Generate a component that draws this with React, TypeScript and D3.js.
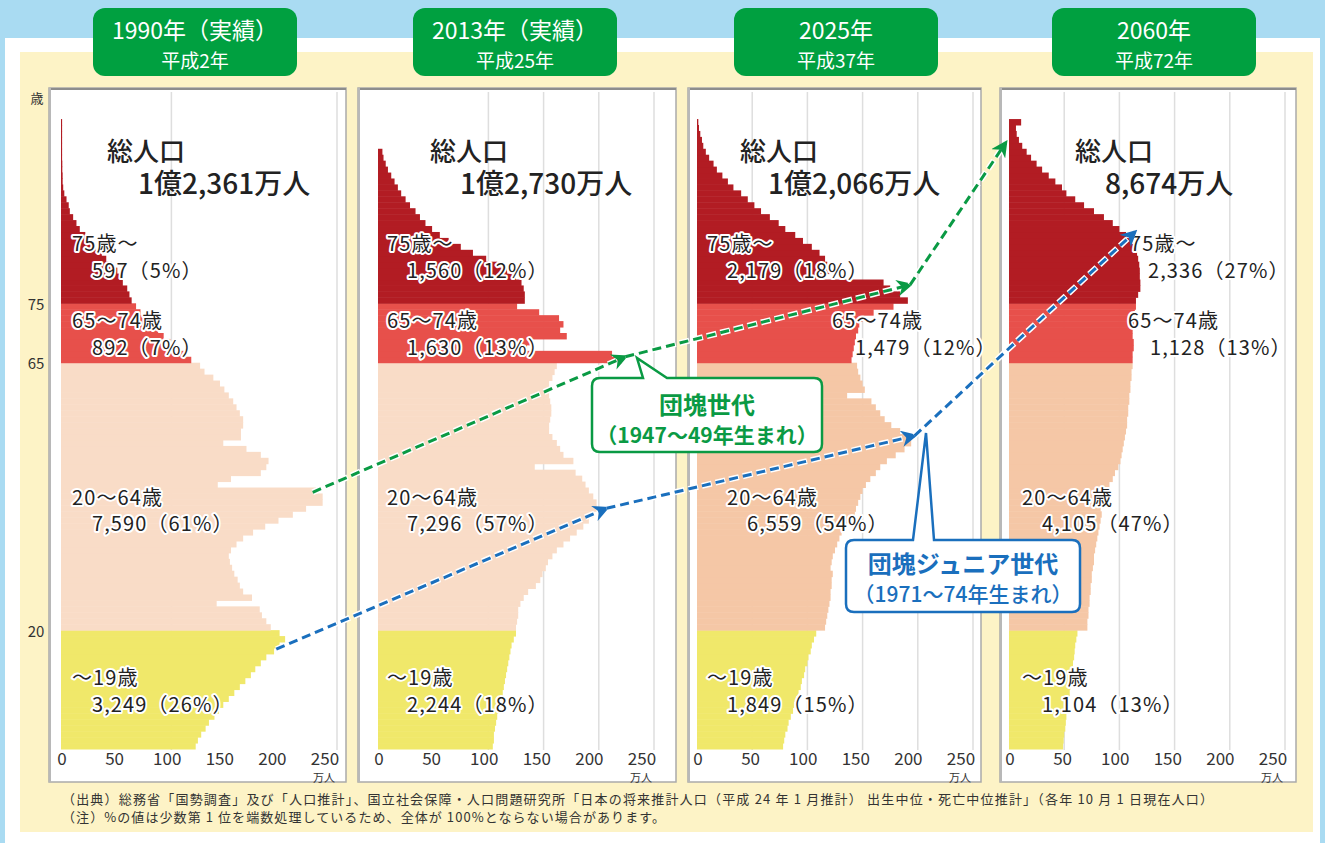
import React from 'react';
import * as d3 from 'd3';

// population by single year of age (万人), index = age
const pop1990 = [
  122, 124, 127, 131, 134, 139, 143, 147, 152, 157,
  162, 167, 172, 176, 181, 186, 193, 198, 203, 198,
  190, 186, 182, 180, 141, 173, 165, 162, 160, 157,
  155, 153, 152, 154, 159, 165, 174, 185, 197, 210,
  222, 237, 237, 231, 142, 154, 181, 186, 188, 181,
  168, 147, 163, 163, 165, 165, 162, 159, 156, 152,
  148, 144, 138, 130, 126,
  118, 112, 105, 99, 93, 88, 82, 77, 72, 68,
  64, 62, 60, 56, 53, 51, 46, 41, 37, 31,
  26, 22, 17, 14, 11, 8, 7, 5, 3, 2,
  1.5, 1.5, 1.2, 1.2, 1, 1, 1, 1, 1, 1, 1,
];
const pop2013 = [
  104, 105, 105, 106, 107, 108, 109, 110, 112, 113,
  114, 115, 116, 117, 118, 119, 120, 121, 123, 125,
  125, 126, 127, 127, 129, 132, 136, 143, 147, 149,
  152, 154, 158, 162, 168, 174, 180, 186, 191, 195,
  198, 198, 195, 191, 188, 185, 179, 142, 177, 168,
  165, 162, 158, 155, 155, 156, 157, 157, 156, 155,
  154, 155, 158, 160, 162,
  221, 212, 135, 138, 171, 165, 168, 164, 146, 126,
  133, 133, 132, 130, 125, 117, 108, 98, 86, 75,
  64, 56, 49, 43, 38, 34, 29, 25, 21, 18,
  15, 12, 9, 7, 5, 4,
];
const pop2025 = [
  78, 79, 80, 82, 83, 85, 87, 88, 90, 92,
  94, 95, 97, 98, 100, 101, 103, 104, 106, 108,
  116, 117, 118, 119, 120, 121, 121, 122, 122, 123,
  121, 122, 123, 125, 127, 129, 131, 135, 139, 143,
  144, 146, 148, 150, 153, 157, 162, 166, 172, 180,
  188, 194, 192, 184, 176, 170, 166, 162, 158, 136,
  152, 150, 148, 146, 145,
  140, 141, 142, 143, 144, 146, 147, 150, 160, 178,
  191, 184, 175, 169, 108, 120, 118, 116, 111, 104,
  96, 89, 80, 74, 66, 58, 52, 46, 40, 33,
  28, 23, 18, 15, 11, 8, 5.7, 4.5, 3, 1.8, 1.2,
];
const pop2060 = [
  49, 49.5, 50, 51, 51.5, 52, 53, 53.5, 54, 55,
  55.5, 56, 57, 57.5, 58, 59, 59.5, 60, 61, 62,
  71, 71, 72, 72, 73, 73, 74, 74, 75, 75,
  76, 77, 77, 78, 79, 80, 81, 82, 83, 84,
  83, 85, 87, 89, 91, 94, 96, 99, 101, 102,
  103, 104, 105, 106, 107, 107, 108, 108, 109, 109,
  110, 110, 111, 111, 112,
  112, 112, 113, 113, 112, 112, 113, 113, 114, 115,
  115, 117, 119, 119, 118.5, 118.5, 118, 117, 116, 113,
  110, 106, 100, 94, 86, 77, 68, 60, 52, 48,
  42, 36, 30, 25, 20, 16, 12, 9, 7, 6.3, 11,
];

const years = ['1990', '2013', '2025', '2060'];
const titles = ['1990年（実績）', '2013年（実績）', '2025年', '2060年'];
const subtitles = ['平成2年', '平成25年', '平成37年', '平成72年'];
const totals = ['1億2,361万人', '1億2,730万人', '1億2,066万人', '8,674万人'];
const groupNames = ['75歳～', '65～74歳', '20～64歳', '～19歳'];
const groupValues1990 = ['597（5%）', '892（7%）', '7,590（61%）', '3,249（26%）'];
const groupValues2013 = ['1,560（12%）', '1,630（13%）', '7,296（57%）', '2,244（18%）'];
const groupValues2025 = ['2,179（18%）', '1,479（12%）', '6,559（54%）', '1,849（15%）'];
const groupValues2060 = ['2,336（27%）', '1,128（13%）', '4,105（47%）', '1,104（13%）'];
const xTicks = [0, 50, 100, 150, 200, 250];
const ageTicks = [20, 65, 75];

// cohort arrows: [panel, population, age]
const dankai = [[0, 228, 43.2], [1, 224, 66], [2, 193, 78.1], [3, -3, 102]];
const dankaiJr = [[0, 195, 16.8], [1, 207, 40.5], [2, 197, 52.7], [3, 114, 87]];

const allPops = [pop1990, pop2013, pop2025, pop2060];
const allGroupValues = [groupValues1990, groupValues2013, groupValues2025, groupValues2060];

// layout
const panelX0 = [61, 378, 697, 1009];
const frames = [[49, 346], [358, 676], [688, 981], [1000, 1296]];
const titleCx = [195, 515, 836, 1154];
const gridVals = [[100, 250], [100, 150, 200, 250], [50, 100, 150, 200, 250], [50, 100, 150, 200, 250]];
const totalOffsets = [[46, 77], [52, 82], [43, 71], [66, 96]];
// label [nameDx, valueDx] per group per panel
const labelDx = [
  [[11, 31], [11, 31], [11, 31], [11, 31]],
  [[9, 29], [9, 29], [9, 29], [9, 29]],
  [[10, 30], [135, 158], [30, 50], [10, 30]],
  [[121, 139], [119, 141], [13, 33], [13, 33]],
];
const labelY = [[242, 269], [319, 346], [496, 522], [676, 703]];

const FONT = "'Noto Sans CJK JP', 'Noto Sans', sans-serif";
const GREEN = '#0a9a44';
const BLUE = '#1a6fbd';

const yAge = d3.scaleLinear().domain([0, 105]).range([749, 125]);
const xScales = panelX0.map((x0) => d3.scaleLinear().domain([0, 250]).range([x0, x0 + 276]));
const tickScales = panelX0.map((x0) => d3.scaleLinear().domain([0, 250]).range([x0 + 1, x0 + 264]));

const fillFor = (age: number, p: number) => {
  if (age >= 75) return '#b21c23';
  if (age >= 65) return '#e7504b';
  if (age >= 20) return p < 2 ? '#f9dcc7' : '#f5c7a6';
  return '#f0e86a';
};

const halo = {
  paintOrder: 'stroke',
  stroke: '#fff',
  strokeWidth: 4,
  strokeLinejoin: 'round',
  letterSpacing: 1.1,
} as React.CSSProperties;

const cohortPath = (pts: number[][], i: number) => {
  const a = pts[i];
  const b = pts[i + 1];
  return [
    [xScales[a[0]](a[1]), yAge(a[2])],
    [xScales[b[0]](b[1]), yAge(b[2])],
  ];
};

const Arrow = ({ pts, color, id }: { pts: number[][]; color: string; id: string }) => (
  <g>
    {pts.slice(0, -1).map((_, i) => {
      const [[x1, y1], [x2, y2]] = cohortPath(pts, i);
      const d = `M${x1},${y1}L${x2},${y2}`;
      return (
        <g key={i}>
          <path d={d} stroke="#fff" strokeWidth={6} fill="none" strokeDasharray="10 4" />
          <path d={d} stroke={color} strokeWidth={3} fill="none" strokeDasharray="9 5" markerEnd={`url(#${id})`} />
        </g>
      );
    })}
  </g>
);

export default function App() {
  return (
    <svg width={1325} height={843} style={{ position: 'absolute', left: 0, top: 0 }} fontFamily={FONT}>
      <defs>
        <marker id="arrG" viewBox="0 0 10 10" refX="8" refY="5" markerWidth="5.5" markerHeight="5.5" orient="auto">
          <path d="M0,0 L10,5 L0,10 L3,5 z" fill={GREEN} />
        </marker>
        <marker id="arrB" viewBox="0 0 10 10" refX="8" refY="5" markerWidth="5.5" markerHeight="5.5" orient="auto">
          <path d="M0,0 L10,5 L0,10 L3,5 z" fill={BLUE} />
        </marker>
      </defs>

      {/* background */}
      <rect x={0} y={0} width={1325} height={843} fill="#a9dbf2" />
      <rect x={5} y={38} width={1315} height={820} fill="#fff" />
      <rect x={20} y={52} width={1293} height={780} fill="#fdf3c6" />

      {/* age axis labels */}
      <text x={37} y={97} fontSize={13} fill="#333" textAnchor="middle" dominantBaseline="central">歳</text>
      {ageTicks.map((a) => (
        <text key={a} x={36} y={yAge(a)} fontSize={15} fill="#333" textAnchor="middle" dominantBaseline="central">
          {a}
        </text>
      ))}

      {allPops.map((pop, p) => {
        const xs = xScales[p];
        const ts = tickScales[p];
        const [fl, fr] = frames[p];
        return (
          <g key={years[p]}>
            <rect x={fl} y={88} width={fr - fl} height={694} fill="#fff" stroke="#aaa" strokeWidth={1.5} />
            <line x1={fl} x2={fr} y1={89} y2={89} stroke="#8d8d8d" strokeWidth={2} />
            <line x1={fl + 1} x2={fl + 1} y1={88} y2={782} stroke="#b8b8b8" strokeWidth={2} />
            {gridVals[p].map((g) => (
              <line key={g} x1={xs(g)} x2={xs(g)} y1={92} y2={750} stroke="#dedede" strokeWidth={1.5} />
            ))}
            {pop.map((v, age) => (
              <rect
                key={age}
                x={xs(0)}
                y={yAge(age + 1)}
                width={xs(v) - xs(0)}
                height={yAge(age) - yAge(age + 1) + 0.5}
                fill={fillFor(age, p)}
              />
            ))}
            {xTicks.map((t) => (
              <text key={t} x={ts(t)} y={757} fontSize={17} fill="#333" textAnchor="middle" dominantBaseline="central">
                {t}
              </text>
            ))}
            <text x={ts(250) + 10} y={777} fontSize={11} fill="#333" textAnchor="end" dominantBaseline="central">
              万人
            </text>
          </g>
        );
      })}

      {/* text labels */}
      {allPops.map((_, p) => {
        const x0 = panelX0[p];
        return (
          <g key={'lab' + p} fill="#222">
            <text x={x0 + totalOffsets[p][0]} y={149} fontSize={26} fontWeight={500} dominantBaseline="central">
              総人口
            </text>
            <text x={x0 + totalOffsets[p][1]} y={182} fontSize={28} fontWeight={500} dominantBaseline="central">
              {totals[p]}
            </text>
            {groupNames.map((n, g) => (
              <g key={g}>
                <text x={x0 + labelDx[p][g][0]} y={labelY[g][0]} fontSize={20} style={halo} dominantBaseline="central">
                  {n}
                </text>
                <text x={x0 + labelDx[p][g][1]} y={labelY[g][1]} fontSize={20} style={halo} dominantBaseline="central">
                  {allGroupValues[p][g]}
                </text>
              </g>
            ))}
          </g>
        );
      })}

      {/* cohort arrows */}
      <Arrow pts={dankai} color={GREEN} id="arrG" />
      <Arrow pts={dankaiJr} color={BLUE} id="arrB" />

      {/* callouts */}
      <g>
        <path
          d="M600,378 H643 L637,358 L667,378 H814 Q822,378 822,386 V444 Q822,452 814,452 H600 Q592,452 592,444 V386 Q592,378 600,378 Z"
          fill="#fff"
          stroke={GREEN}
          strokeWidth={2.5}
        />
        <text x={707} y={403} fontSize={24} fontWeight={700} fill={GREEN} textAnchor="middle" dominantBaseline="central">
          団塊世代
        </text>
        <text x={707} y={434} fontSize={21} fontWeight={700} fill={GREEN} textAnchor="middle" dominantBaseline="central">
          （1947～49年生まれ）
        </text>
      </g>
      <g>
        <path
          d="M854,540 H913 L926,433 L934,540 H1072 Q1080,540 1080,548 V604 Q1080,612 1072,612 H854 Q846,612 846,604 V548 Q846,540 854,540 Z"
          fill="#fff"
          stroke={BLUE}
          strokeWidth={2.5}
        />
        <text x={963} y={562} fontSize={24} fontWeight={700} fill={BLUE} textAnchor="middle" dominantBaseline="central">
          団塊ジュニア世代
        </text>
        <text x={963} y={593} fontSize={21} fontWeight={500} fill={BLUE} textAnchor="middle" dominantBaseline="central">
          （1971～74年生まれ）
        </text>
      </g>

      {/* title boxes */}
      {titles.map((t, p) => (
        <g key={t}>
          <rect x={titleCx[p] - 102} y={8} width={204} height={68} rx={12} fill="#00a040" />
          <text x={titleCx[p]} y={29} fontSize={23} fill="#fff" textAnchor="middle" dominantBaseline="central">
            {t}
          </text>
          <text x={titleCx[p]} y={59} fontSize={19} fill="#fff" textAnchor="middle" dominantBaseline="central">
            {subtitles[p]}
          </text>
        </g>
      ))}

      {/* footnotes */}
      <text x={62} y={798} fontSize={13} fill="#333" dominantBaseline="central" textLength={1151} lengthAdjust="spacing">
        （出典）総務省「国勢調査」及び「人口推計」、国立社会保障・人口問題研究所「日本の将来推計人口（平成 24 年 1 月推計） 出生中位・死亡中位推計」（各年 10 月 1 日現在人口）
      </text>
      <text x={62} y={816} fontSize={13} fill="#333" dominantBaseline="central" textLength={603} lengthAdjust="spacing">
        （注）%の値は少数第 1 位を端数処理しているため、全体が 100%とならない場合があります。
      </text>
    </svg>
  );
}
